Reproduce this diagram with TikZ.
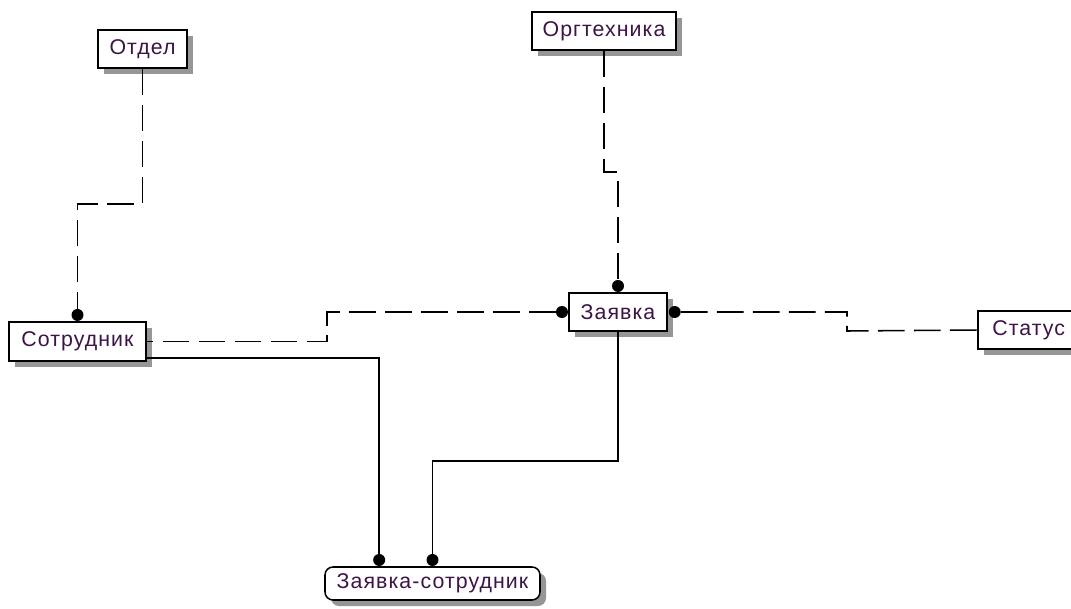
\documentclass[tikz,border=0pt]{standalone}
\usepackage{fontspec}
\setmainfont{Liberation Sans}[LetterSpace=5]
\usetikzlibrary{shadows}
\definecolor{txt}{RGB}{60,20,70}
\definecolor{shd}{RGB}{150,150,150}
\begin{document}
\begin{tikzpicture}[x=0.75pt,y=-0.75pt,
  ent/.style={draw=black, line width=1.15pt, fill=white, inner sep=0pt, text=txt,
    font=\fontsize{16}{18}\selectfont,
    drop shadow={shadow xshift=4.5pt, shadow yshift=-4.5pt, fill=shd, opacity=1}},
  rel/.style={line width=1.15pt, dash pattern=on 20pt off 7pt},
  idrel/.style={line width=1.15pt},
  dotc/.style={circle, fill=black, inner sep=0pt, minimum size=9pt}]
\useasboundingbox (0,0) rectangle (1071,608);

\node[ent, minimum width=66.75pt, minimum height=28.5pt] (otdel) at (142.5,49) {Отдел};
\node[ent, minimum width=108pt, minimum height=28.5pt] (orgt) at (604,31) {Оргтехника};
\node[ent, minimum width=102.75pt, minimum height=29.25pt] (sotr) at (77.5,341.5) {Сотрудник};
\node[ent, minimum width=73.5pt, minimum height=28.5pt] (zay) at (618,312) {Заявка};
\node[ent, minimum width=82.5pt, minimum height=28.5pt, text width=72pt, align=left] (status) at (1033,330) {\hspace*{5.5pt}Статус};
\node[ent, rounded corners=6pt, minimum width=161.25pt, minimum height=24.75pt] (zs) at (432.5,583.5) {Заявка-сотрудник};

\node[dotc, anchor=south] (d1) at (sotr.north) {};
\node[dotc, anchor=south] (d2) at (zay.north) {};
\node[dotc, anchor=east] (d3) at (zay.west) {};
\node[dotc, anchor=west] (d4) at ([xshift=0.5pt]zay.east) {};
\node[dotc, anchor=south] (d5) at ([xshift=-40pt]zs.north) {};
\node[dotc, anchor=south] (d6) at (zs.north) {};

\draw[rel] (otdel.south) -- (otdel.south |- 0,204) -| (d1.north);
\draw[rel] (orgt.south) -- (orgt.south |- 0,172) -| (d2.north);
\draw[rel] (d3.west) -- (327,312) -- (327,341.5) -- (sotr.east);
\draw[rel] (d4.east) -- (847,312) -- (847,331) -- (status.west);
\draw[idrel] ([yshift=3pt]sotr.south east) -| (d5.north);
\draw[idrel] (zay.south) -- (zay.south |- 0,461) -| (d6.north);
\end{tikzpicture}
\end{document}
